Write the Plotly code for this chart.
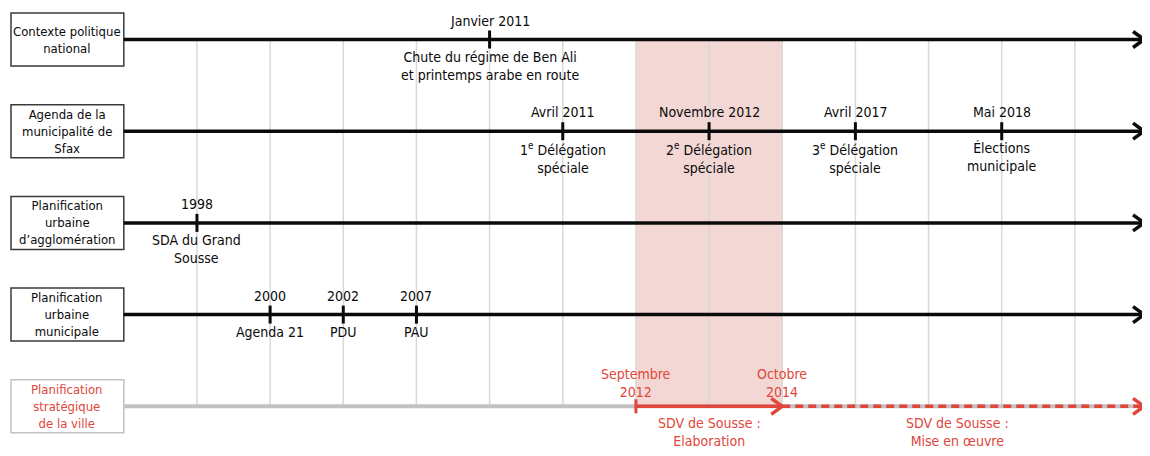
import plotly.graph_objects as go

# ---------------- data ----------------
row_labels = [
    "Contexte politique<br>national",
    "Agenda de la<br>municipalité de<br>Sfax",
    "Planification<br>urbaine<br>d’agglomération",
    "Planification<br>urbaine<br>municipale",
    "Planification<br>stratégique<br>de la ville",
]
# ordinal slots of the timeline (equally spaced grid)
grid_slots = [1, 2, 3, 4, 5, 6, 7, 8, 9, 10, 11, 12, 13]
timeline_end = 14

event_rows = [0, 1, 1, 1, 1, 2, 3, 3, 3]
event_pos = [5, 6, 8, 10, 12, 1, 2, 3, 4]
event_top = ["Janvier 2011", "Avril 2011", "Novembre 2012", "Avril 2017", "Mai 2018",
             "1998", "2000", "2002", "2007"]
event_bottom = [
    "Chute du régime de Ben Ali<br>et printemps arabe en route",
    "1<sup>e</sup> Délégation<br>spéciale",
    "2<sup>e</sup> Délégation<br>spéciale",
    "3<sup>e</sup> Délégation<br>spéciale",
    "Élections<br>municipale",
    "SDA du Grand<br>Sousse",
    "Agenda 21",
    "PDU",
    "PAU",
]

# strategic planning row (SDV de Sousse)
sdv_row = 4
sdv_start = 7      # Septembre 2012
sdv_end = 9        # Octobre 2014
sdv_start_label = "Septembre<br>2012"
sdv_end_label = "Octobre<br>2014"
sdv_phase_labels = ["SDV de Sousse :<br>Elaboration", "SDV de Sousse :<br>Mise en œuvre"]
sdv_phase_pos = [8, 11.4]
highlight_band = [7, 9]

# ---------------- style ----------------
FONT = "DejaVu Sans Condensed, Liberation Sans Narrow, Roboto Condensed, sans-serif"
BLACK = "#0a0a0a"
RED = "#e0463a"
GREY = "#c2c2c2"
GRID = "#d9d9d9"
BAND = "rgba(236,190,186,0.62)"
FS = 14
FS_BOX = 13

# the page body has an 8px margin: work in figure pixels = page pixels - 8
OFF = 8
W, H = 1150 - OFF, 456 - OFF
px_per_x = 73.16
px_per_y = 91.7
x0 = -(123.8 - OFF) / px_per_x
x1 = x0 + W / px_per_x
ytop = -(39.5 - OFF) / px_per_y
ybot = ytop + H / px_per_y

def dx(p):
    return p / px_per_x

def dy(p):
    return p / px_per_y

TIP = timeline_end - dx(4)   # keep the stroked arrow tip inside the window

shapes = []
annotations = []

# highlight band
shapes.append(dict(type="rect", xref="x", yref="y", x0=highlight_band[0], x1=highlight_band[1],
                   y0=0, y1=len(row_labels) - 1, fillcolor=BAND, line=dict(width=0), layer="below"))
# grid lines
for g in grid_slots:
    shapes.append(dict(type="line", xref="x", yref="y", x0=g, x1=g, y0=0, y1=len(row_labels) - 1,
                       line=dict(color=GRID, width=1.5), layer="below"))

def chevron(xtip, y, color, width):
    return dict(type="path", xref="x", yref="y",
                path=f"M {xtip - dx(11)} {y - dy(8)} L {xtip} {y} L {xtip - dx(11)} {y + dy(8)}",
                line=dict(color=color, width=width), fillcolor="rgba(0,0,0,0)")

# row boxes + main lines
for i, lab in enumerate(row_labels):
    last = i == len(row_labels) - 1
    bcol = GREY if last else "#3a3a3a"
    tcol = RED if last else BLACK
    shapes.append(dict(type="rect", xref="x", yref="y", x0=dx(11 - 123.8), x1=0,
                       y0=i - dy(26.5), y1=i + dy(26.5), line=dict(color=bcol, width=1.5),
                       fillcolor="white"))
    annotations.append(dict(x=dx((11 - 123.8) / 2), y=i, xref="x", yref="y", text=lab,
                            showarrow=False, font=dict(family=FONT, size=FS_BOX, color=tcol),
                            xanchor="center", yanchor="middle"))
    if last:
        shapes.append(dict(type="line", xref="x", yref="y", x0=0, x1=TIP - dx(2), y0=i, y1=i,
                           line=dict(color=GREY, width=4)))
    else:
        shapes.append(dict(type="line", xref="x", yref="y", x0=0, x1=TIP - dx(2), y0=i, y1=i,
                           line=dict(color=BLACK, width=3.5)))
        shapes.append(chevron(TIP, i, BLACK, 3.5))

# events
for r, p, t, b in zip(event_rows, event_pos, event_top, event_bottom):
    shapes.append(dict(type="line", xref="x", yref="y", x0=p, x1=p, y0=r - dy(9), y1=r + dy(9),
                       line=dict(color=BLACK, width=3)))
    annotations.append(dict(x=p, y=r, xref="x", yref="y", text=t, showarrow=False,
                            font=dict(family=FONT, size=FS, color=BLACK),
                            xanchor="center", yanchor="bottom", yshift=9))
    annotations.append(dict(x=p, y=r, xref="x", yref="y", text=b, showarrow=False,
                            font=dict(family=FONT, size=FS, color=BLACK),
                            xanchor="center", yanchor="top", yshift=-7))

# SDV row
r = sdv_row
shapes.append(dict(type="line", xref="x", yref="y", x0=sdv_start, x1=sdv_end - dx(2), y0=r, y1=r,
                   line=dict(color=RED, width=3.5)))
shapes.append(dict(type="line", xref="x", yref="y", x0=sdv_start, x1=sdv_start, y0=r - dy(7), y1=r + dy(7),
                   line=dict(color=RED, width=3)))
shapes.append(chevron(sdv_end, r, RED, 3.5))
shapes.append(dict(type="line", xref="x", yref="y", x0=sdv_end, x1=TIP - dx(2), y0=r, y1=r,
                   line=dict(color=RED, width=3.5, dash="8px,5px")))
shapes.append(chevron(TIP, r, RED, 3.5))

for p, t in zip([sdv_start, sdv_end], [sdv_start_label, sdv_end_label]):
    annotations.append(dict(x=p, y=r, xref="x", yref="y", text=t, showarrow=False,
                            font=dict(family=FONT, size=FS, color=RED),
                            xanchor="center", yanchor="bottom", yshift=4))
for p, t in zip(sdv_phase_pos, sdv_phase_labels):
    annotations.append(dict(x=p, y=r, xref="x", yref="y", text=t, showarrow=False,
                            font=dict(family=FONT, size=FS, color=RED),
                            xanchor="center", yanchor="top", yshift=-7))

fig = go.Figure()
fig.add_trace(go.Scatter(x=[x0, x1], y=[ytop, ybot], mode="markers",
                         marker=dict(opacity=0), hoverinfo="skip", showlegend=False))
fig.update_layout(
    width=W, height=H,
    margin=dict(l=0, r=0, t=0, b=0),
    paper_bgcolor="white", plot_bgcolor="white",
    xaxis=dict(range=[x0, x1], visible=False, fixedrange=True),
    yaxis=dict(range=[ybot, ytop], visible=False, fixedrange=True),
    shapes=shapes, annotations=annotations, showlegend=False,
)
fig.write_html("out.html")
